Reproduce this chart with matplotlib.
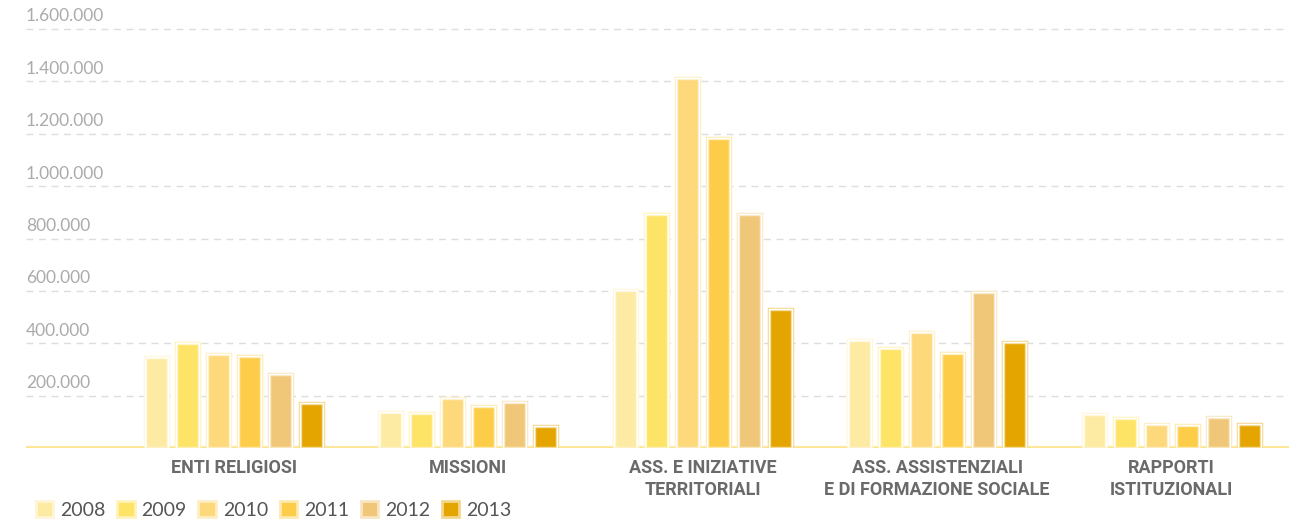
import numpy as np
import matplotlib
matplotlib.use('Agg')
import matplotlib.pyplot as plt
from matplotlib.patches import Patch
from matplotlib.colors import to_rgb

categories = ['ENTI RELIGIOSI', 'MISSIONI', 'ASS. E INIZIATIVE\nTERRITORIALI',
              'ASS. ASSISTENZIALI\nE DI FORMAZIONE SOCIALE',
              'RAPPORTI\nISTITUZIONALI']
years = ['2008', '2009', '2010', '2011', '2012', '2013']
v2008 = [347000, 137000, 603000, 412000, 130000]
v2009 = [400000, 134000, 893000, 382000, 115000]
v2010 = [359000, 191000, 1412000, 443000, 92000]
v2011 = [351000, 160000, 1183000, 363000, 88000]
v2012 = [282000, 176000, 893000, 595000, 118000]
v2013 = [172000, 84000, 530000, 405000, 92000]
series = [v2008, v2009, v2010, v2011, v2012, v2013]
yticks = [200000, 400000, 600000, 800000, 1000000, 1200000, 1400000, 1600000]

colors = ['#FEEBA3', '#FEE466', '#FDD97B', '#FDCD4A', '#F0C778', '#E4A500']


def tint(c, f=0.55):
    r, g, b = to_rgb(c)
    return (r + (1 - r) * f, g + (1 - g) * f, b + (1 - b) * f)


label_font = ['Liberation Sans Narrow', 'Roboto', 'DejaVu Sans']
num_font = ['Lato', 'DejaVu Sans']

fig = plt.figure(figsize=(13.06, 5.22), dpi=100)
ax = fig.add_axes([0.0199, 0.1418, 0.9671, 0.8126])

x = np.arange(len(categories))
pitch = 0.1322
width = 0.098
for i, vals in enumerate(series):
    pos = x + (i - 2.5) * pitch
    ax.bar(pos, vals, width, color=colors[i], edgecolor=tint(colors[i]),
           linewidth=2.5, zorder=3)
    ax.bar(pos, vals, width, fill=False, edgecolor='white', linewidth=1,
           zorder=4)

ax.set_xlim(-0.885, 4.501)
ax.set_ylim(0, 1620000)

for s in ax.spines.values():
    s.set_visible(False)
ax.set_yticks(yticks)
ax.tick_params(axis='y', length=0, labelleft=False)
ax.grid(axis='y', color='#dddddd', linestyle=(0, (5, 4)), linewidth=1,
        zorder=0)
for t in yticks:
    lab = f'{t:,}'.replace(',', '.')
    ax.annotate(lab, xy=(0, t), xycoords=('axes fraction', 'data'),
                xytext=(0, 5.5), textcoords='offset points', ha='left',
                va='baseline', color='#ababab', fontsize=12.5,
                family=num_font)

ax.axhline(0, color='#fdeaa0', linewidth=3, zorder=2)
ax.axhline(0, color='#f9d760', linewidth=1, zorder=5)

ax.set_xticks(x)
ax.set_xticklabels(categories, family=label_font, fontweight='bold',
                   fontsize=13, color='#6a6a6a', linespacing=1.25)
ax.tick_params(axis='x', length=0, pad=8)

handles = [Patch(facecolor=c, edgecolor=tint(c), linewidth=2) for c in colors]
leg = fig.legend(handles, years, loc='lower left', ncol=6,
                 bbox_to_anchor=(0.014, -0.027), frameon=False,
                 handlelength=0.9, handleheight=0.9, handletextpad=0.35,
                 columnspacing=0.6, prop={'family': num_font, 'size': 14})
for t in leg.get_texts():
    t.set_color('#555555')

fig.savefig('out.png', dpi=100)
